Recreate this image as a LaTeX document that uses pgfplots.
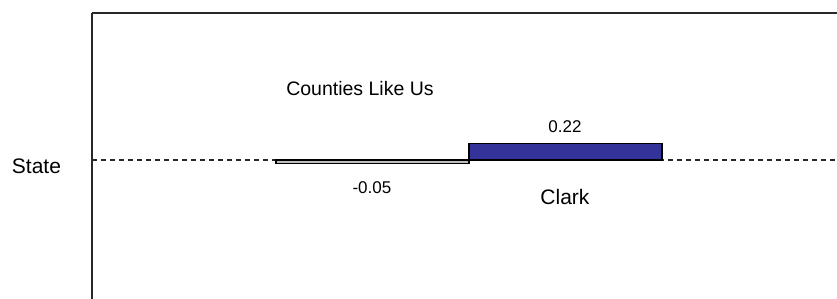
\documentclass[border=0pt]{standalone}
\usepackage{pgfplots}
\pgfplotsset{compat=1.18}
\usepackage{fontspec}
\setmainfont{Liberation Sans}
\definecolor{barblue}{RGB}{51,51,153}
\definecolor{bargray}{RGB}{190,190,190}
\definecolor{axgray}{RGB}{40,40,40}
\begin{document}
\begin{tikzpicture}[x=1pt,y=1pt]
\useasboundingbox (0,0) rectangle (837,-299);
\begin{axis}[
  at={(92pt,-13pt)}, anchor=north west,
  scale only axis, width=745pt, height=286pt,
  xmin=-1.4534, xmax=2.4067,
  ymin=-1.829, ymax=1.934,
  axis x line=top, axis y line=left,
  axis line style={-, line width=1.3pt, color=axgray},
  xtick=\empty, ytick=\empty,
  clip=false,
]
\addplot[axgray, line width=1.2pt, dash pattern=on 5pt off 4pt] coordinates {(-1.4534,0) (2.4067,0)};
\addplot[ybar, bar width=1, bar shift=0, fill=bargray, draw=black, line width=1.2pt] coordinates {(0,-0.05)};
\addplot[ybar, bar width=1, bar shift=0, fill=barblue, draw=black, line width=1.2pt] coordinates {(1,0.22)};
\node[inner sep=0, font=\fontsize{19.5}{22}\selectfont] at (axis cs:-0.065,0.937) {Counties Like Us};
\node[inner sep=0, font=\fontsize{17}{20}\selectfont] at (axis cs:0.997,0.434) {0.22};
\node[inner sep=0, font=\fontsize{17}{20}\selectfont] at (axis cs:-0.003,-0.368) {-0.05};
\node[inner sep=0, font=\fontsize{21}{24}\selectfont] at (axis cs:0.997,-0.487) {Clark};
\node[inner sep=0, font=\fontsize{21}{24}\selectfont] at (axis cs:-1.741,-0.086) {State};
\end{axis}
\end{tikzpicture}
\end{document}
